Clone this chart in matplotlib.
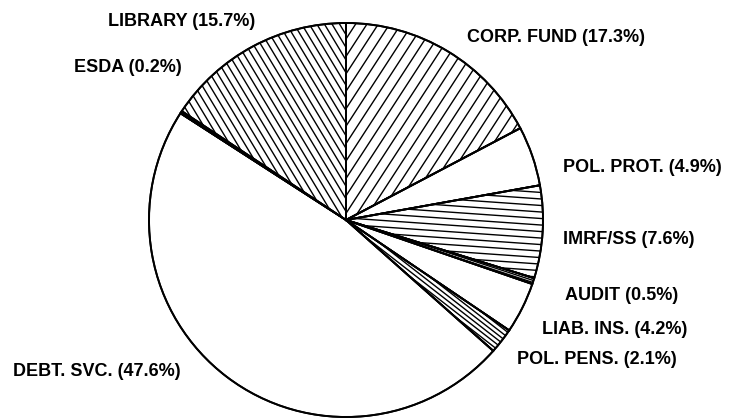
import numpy as np
import matplotlib
matplotlib.use("Agg")
import matplotlib.pyplot as plt
from matplotlib.lines import Line2D
from matplotlib.patches import Wedge

# ---- data ----
categories = ["CORP. FUND", "POL. PROT.", "IMRF/SS", "AUDIT", "LIAB. INS.",
              "POL. PENS.", "DEBT. SVC.", "ESDA", "LIBRARY"]
shares = [17.3, 4.9, 7.6, 0.5, 4.2, 2.1, 47.6, 0.2, 15.7]
labels = [f"{c} ({v}%)" for c, v in zip(categories, shares)]

W, H = 735, 418
fig = plt.figure(figsize=(W / 100, H / 100), dpi=100)
ax = fig.add_axes([0, 0, 1, 1])

cx, cy, R = 346, H - 220, 197
wedges, _ = ax.pie(shares, startangle=90, counterclock=False, center=(cx, cy),
                   radius=R, colors=["white"] * len(shares),
                   wedgeprops=dict(edgecolor="black", linewidth=1.3))


def mid_angle(w):
    return 0.5 * (w.theta1 + w.theta2)


def hatch(wedge, angle, spacing, lw=1.0):
    a = np.deg2rad(angle)
    d = np.array([np.cos(a), np.sin(a)])
    n = np.array([-d[1], d[0]])
    L = 2.2 * R
    for off in np.arange(-L, L, spacing):
        p = np.array([cx, cy]) + off * n
        p0, p1 = p - L * d, p + L * d
        ln = Line2D([p0[0], p1[0]], [p0[1], p1[1]], color="black", lw=lw,
                    zorder=2)
        ax.add_line(ln)
        ln.set_clip_path(wedge)


hatch(wedges[0], 57, 9.5)           # corp fund
hatch(wedges[2], -4, 6.5)           # IMRF/SS
hatch(wedges[3], mid_angle(wedges[3]), 2.0)   # audit
hatch(wedges[5], mid_angle(wedges[5]), 4.0)   # pol pens
hatch(wedges[8], 121, 6.5)          # library
wedges[7].set_facecolor("black")    # ESDA

for w in wedges:
    w.set_zorder(1)
    ax.add_patch(Wedge((cx, cy), R, w.theta1, w.theta2, facecolor="none",
                       edgecolor="black", linewidth=1.4, zorder=3))

# label positions (pixels: x, y from top, alignment)
label_pos = {
    "CORP. FUND": (467, 37, "left"),
    "POL. PROT.": (563, 168, "left"),
    "IMRF/SS": (563, 240, "left"),
    "AUDIT": (565, 295, "left"),
    "LIAB. INS.": (542, 330, "left"),
    "POL. PENS.": (517, 360, "left"),
    "DEBT. SVC.": (13, 372, "left"),
    "ESDA": (182, 68, "right"),
    "LIBRARY": (108, 22, "left"),
}
for c, lab in zip(categories, labels):
    x, y, ha = label_pos[c]
    ax.text(x, H - y, lab, ha=ha, va="center", fontsize=13, fontweight="bold",
            family="Liberation Sans", color="black")

ax.set_xlim(0, W)
ax.set_ylim(0, H)
ax.set_aspect("auto")
ax.axis("off")
fig.savefig("out.png", dpi=100, facecolor="white")
